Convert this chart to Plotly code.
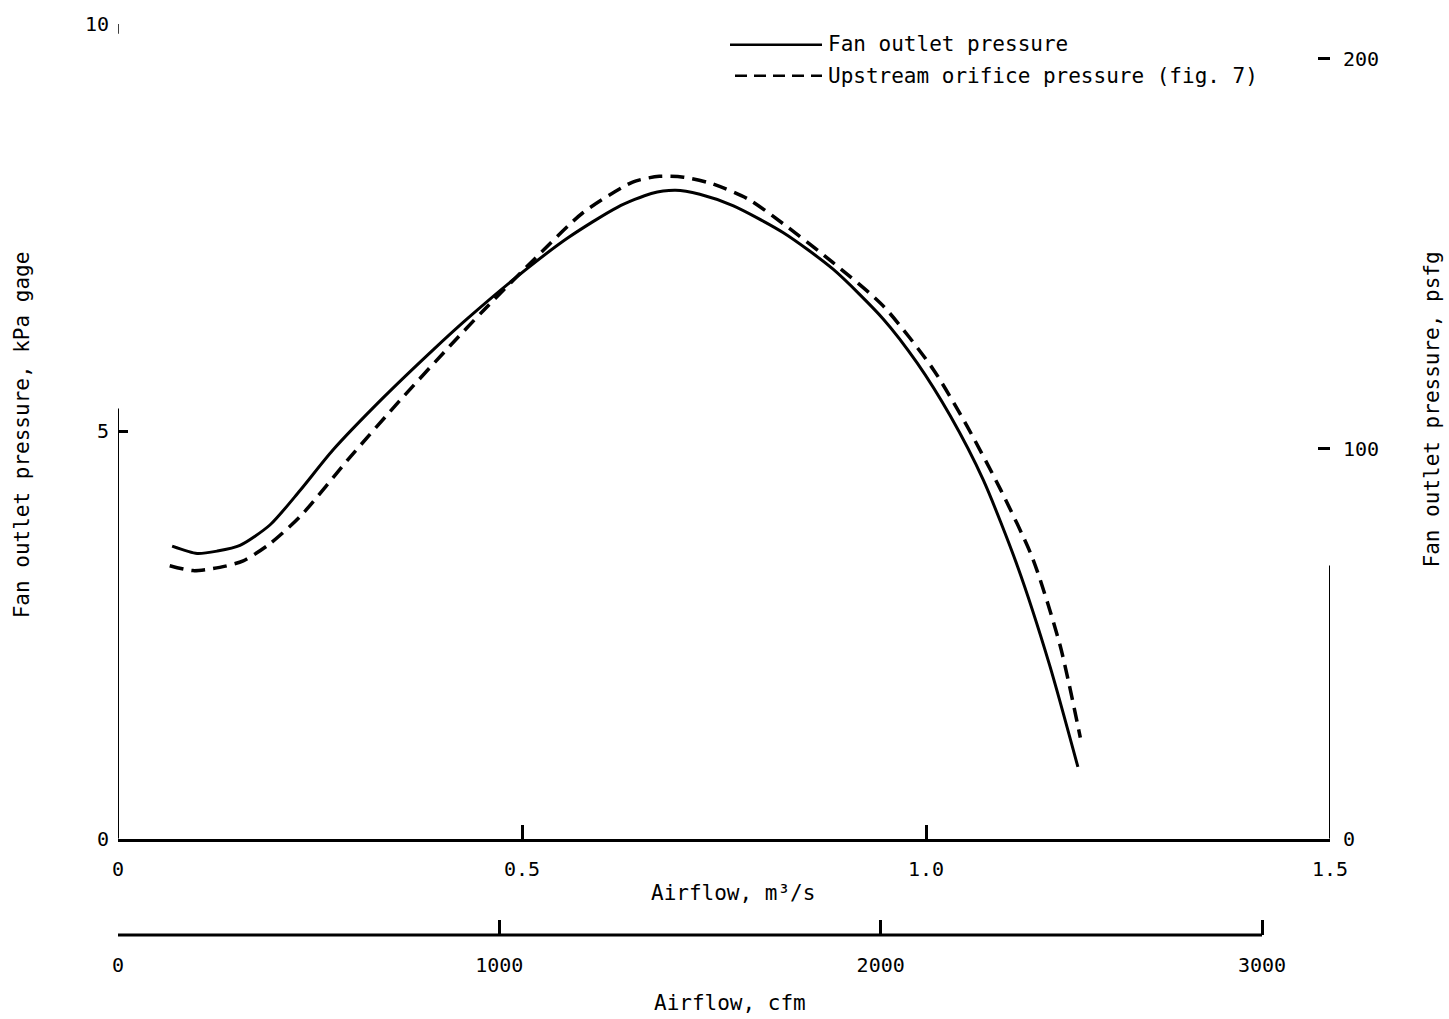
import plotly.graph_objects as go

# Fan outlet pressure (kPa gage) versus airflow (m^3/s)
fan_flow = [0.067, 0.098, 0.123, 0.151, 0.188, 0.225, 0.266, 0.328, 0.390, 0.432,
            0.494, 0.556, 0.618, 0.660, 0.690, 0.720, 0.761, 0.823, 0.885, 0.947,
            0.989, 1.030, 1.071, 1.113, 1.153, 1.188]
fan_pressure = [3.59, 3.50, 3.53, 3.60, 3.85, 4.27, 4.77, 5.41, 6.00, 6.38,
                6.90, 7.37, 7.75, 7.92, 7.96, 7.91, 7.77, 7.44, 6.99, 6.38,
                5.84, 5.19, 4.40, 3.35, 2.13, 0.88]

# Upstream orifice pressure (kPa gage) versus airflow (m^3/s)
orifice_flow = [0.064, 0.093, 0.126, 0.155, 0.188, 0.225, 0.287, 0.349, 0.411, 0.452,
                0.514, 0.575, 0.637, 0.670, 0.700, 0.735, 0.780, 0.823, 0.885, 0.947,
                1.009, 1.051, 1.092, 1.132, 1.166, 1.191]
orifice_pressure = [3.35, 3.29, 3.33, 3.41, 3.62, 3.95, 4.68, 5.38, 6.05, 6.48,
                    7.10, 7.68, 8.06, 8.13, 8.12, 8.04, 7.85, 7.55, 7.07, 6.54,
                    5.76, 5.06, 4.29, 3.44, 2.37, 1.24]

# Axis ticks
flow_ticks = [0, 0.5, 1.0, 1.5]
flow_tick_text = ["0", "0.5", "1.0", "1.5"]
cfm_ticks = [0, 1000, 2000, 3000]
kpa_ticks = [0, 5, 10]
psf_ticks = [0, 100, 200]

# Unit conversions
CFM_PER_M3S = 2118.88
PSF_PER_KPA = 20.8854

FLOW_MAX = 1.5
KPA_MAX = 10

FONT = "DejaVu Sans Mono"
W, H = 1449, 1019
ML, MR, MT, MB = 118, 119, 18, 84
plot_w = W - ML - MR
plot_h = H - MT - MB
y_dom0 = 97 / plot_h


def px(xp):
    return (xp - ML) / plot_w


def py(yp):
    return (H - MB - yp) / plot_h


fig = go.Figure()

fig.add_trace(go.Scatter(
    x=fan_flow, y=fan_pressure, mode="lines",
    line=dict(color="black", width=3, shape="spline", smoothing=0.7),
    name="Fan outlet pressure", showlegend=False, hoverinfo="skip"))

fig.add_trace(go.Scatter(
    x=orifice_flow, y=orifice_pressure, mode="lines",
    line=dict(color="black", width=3.5, dash="14px,8px", shape="spline", smoothing=0.7),
    name="Upstream orifice pressure (fig. 7)", showlegend=False, hoverinfo="skip"))

# placeholders so the secondary scales are drawn
fig.add_trace(go.Scatter(x=[0], y=[0], xaxis="x2", yaxis="y", mode="markers",
                         marker=dict(opacity=0), showlegend=False, hoverinfo="skip"))
fig.add_trace(go.Scatter(x=[0], y=[0], xaxis="x", yaxis="y2", mode="markers",
                         marker=dict(opacity=0), showlegend=False, hoverinfo="skip"))

tick_font = dict(family=FONT, size=20, color="black")

fig.update_layout(
    width=W, height=H,
    margin=dict(l=ML, r=MR, t=MT, b=MB),
    paper_bgcolor="white", plot_bgcolor="rgba(0,0,0,0)",
    font=dict(family=FONT, size=21, color="black"),
    xaxis=dict(range=[0, FLOW_MAX], tickvals=flow_ticks, ticktext=flow_tick_text,
               ticks="inside", ticklen=14, tickwidth=2.5, tickcolor="black",
               showline=True, linewidth=3, linecolor="black",
               showgrid=False, zeroline=False, anchor="y",
               tickfont=tick_font, ticklabelstandoff=10),
    xaxis2=dict(overlaying="x", anchor="free", position=0, side="bottom",
                range=[0, FLOW_MAX * CFM_PER_M3S], tickvals=cfm_ticks,
                ticks="inside", ticklen=15, tickwidth=2.5, tickcolor="black",
                showline=False, showgrid=False, zeroline=False,
                tickfont=tick_font, ticklabelstandoff=16),
    yaxis=dict(domain=[y_dom0, 1], range=[0, KPA_MAX], tickvals=kpa_ticks,
               ticks="inside", ticklen=10, tickwidth=3, tickcolor="black",
               showline=False, showgrid=False, zeroline=False,
               tickfont=tick_font, ticklabelstandoff=8),
    yaxis2=dict(overlaying="y", side="right", anchor="x",
                range=[0, KPA_MAX * PSF_PER_KPA], tickvals=psf_ticks,
                ticks="inside", ticklen=12, tickwidth=2.5, tickcolor="black",
                showline=False, showgrid=False, zeroline=False,
                tickfont=tick_font, ticklabelstandoff=12),
)

shapes = [
    # left pressure scale, drawn partway up
    dict(type="line", xref="x", yref="y", x0=0, x1=0, y0=0, y1=5.28,
         line=dict(color="black", width=2)),
    dict(type="line", xref="x", yref="y", x0=0, x1=0, y0=9.88, y1=KPA_MAX,
         line=dict(color="black", width=1.5)),
    # right psfg scale
    dict(type="line", xref="x", yref="y2", x0=FLOW_MAX, x1=FLOW_MAX, y0=0, y1=70,
         line=dict(color="black", width=2)),
    # cfm scale line
    dict(type="line", xref="x2", yref="paper", x0=0, x1=cfm_ticks[-1], y0=0, y1=0,
         line=dict(color="black", width=3)),
    # key samples
    dict(type="line", xref="paper", yref="paper", x0=px(730), x1=px(822),
         y0=py(39), y1=py(39), line=dict(color="black", width=2.5)),
    dict(type="line", xref="paper", yref="paper", x0=px(735), x1=px(822),
         y0=py(70), y1=py(70), line=dict(color="black", width=2.5, dash="12px,7px")),
]

annotations = [
    dict(text="Fan outlet pressure", xref="paper", yref="paper", x=px(826), y=py(38),
         xanchor="left", yanchor="middle", showarrow=False),
    dict(text="Upstream orifice pressure (fig. 7)", xref="paper", yref="paper",
         x=px(826), y=py(70), xanchor="left", yanchor="middle", showarrow=False),
    dict(text="Fan outlet pressure, kPa gage", xref="paper", yref="paper",
         x=px(22), y=py(432), textangle=-90, xanchor="center", yanchor="middle",
         showarrow=False),
    dict(text="Fan outlet pressure, psfg", xref="paper", yref="paper",
         x=px(1432), y=py(406), textangle=-90, xanchor="center", yanchor="middle",
         showarrow=False),
    dict(text="Airflow, m³/s", xref="paper", yref="paper", x=px(733), y=py(893),
         xanchor="center", yanchor="middle", showarrow=False),
    dict(text="Airflow, cfm", xref="paper", yref="paper", x=px(730), y=py(1003),
         xanchor="center", yanchor="middle", showarrow=False),
]

fig.update_layout(shapes=shapes, annotations=annotations)

fig.write_html("out.html")
